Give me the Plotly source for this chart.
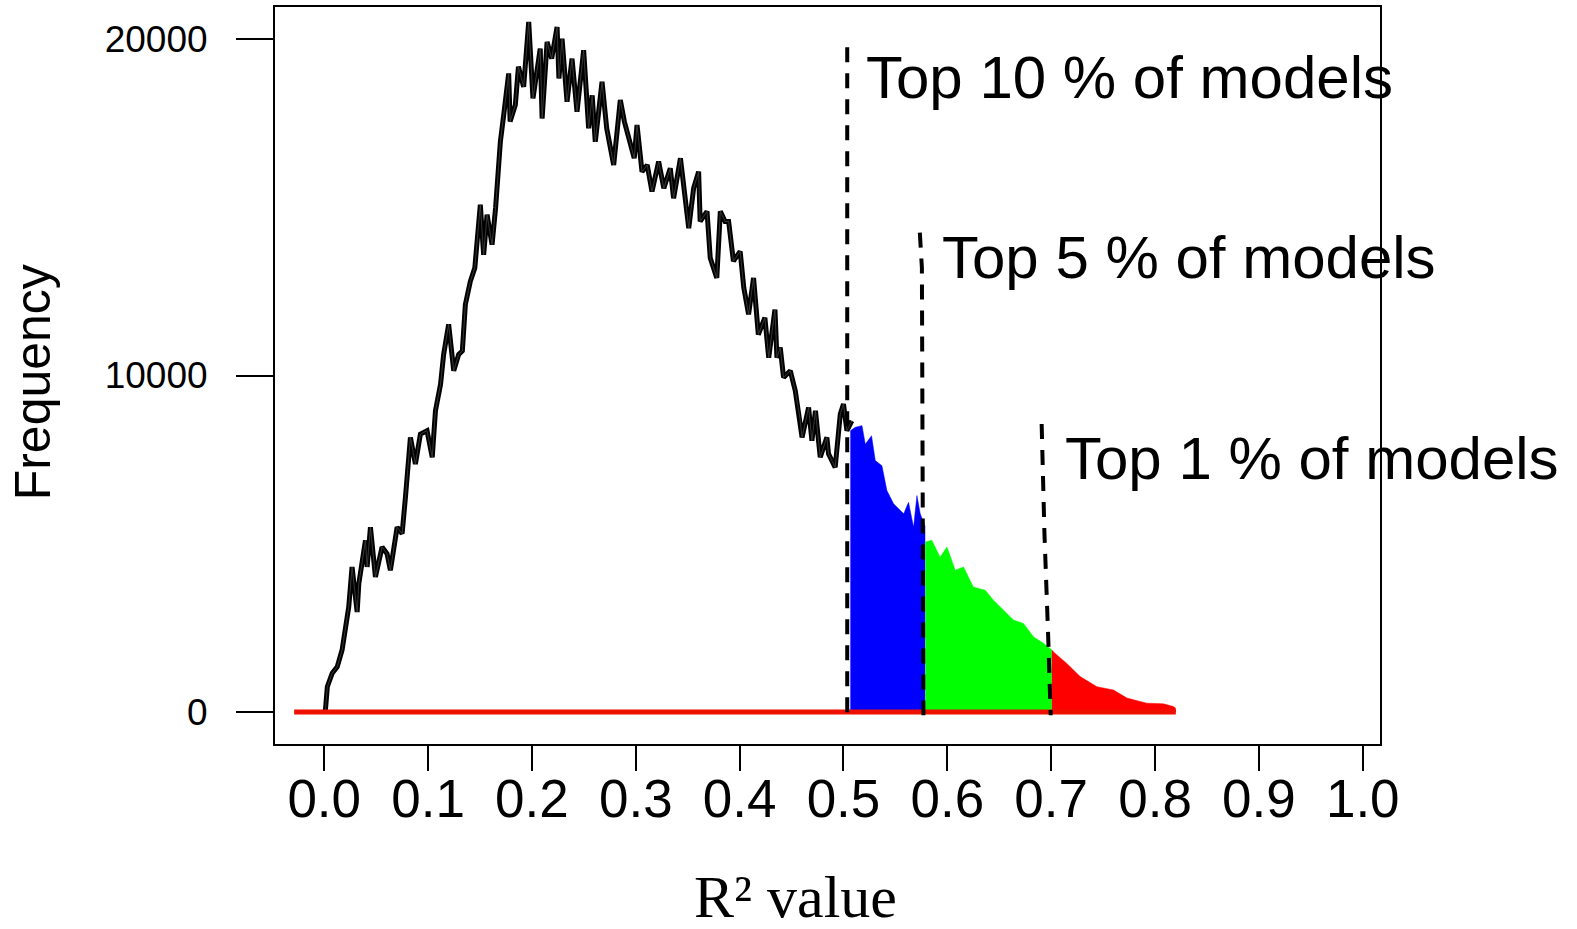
import plotly.graph_objects as go

# ---------------- data ----------------
r2_all = [0.001, 0.003, 0.0077, 0.0125, 0.0172, 0.0204, 0.0236, 0.0268, 0.0317, 0.0333,
          0.0397, 0.0413, 0.0445, 0.0493, 0.0557, 0.0605, 0.0637, 0.0702, 0.075, 0.0782,
          0.081, 0.083, 0.0878, 0.0926, 0.099, 0.104, 0.1071, 0.112, 0.115, 0.1198,
          0.1247, 0.1295, 0.1330, 0.1359, 0.1407, 0.1450, 0.1503, 0.1535, 0.1568, 0.1616,
          0.1650, 0.1696, 0.1728, 0.1776, 0.179, 0.1840, 0.187, 0.1920, 0.1969, 0.2010,
          0.208, 0.2098, 0.2146, 0.2190, 0.2242, 0.2260, 0.229, 0.2338, 0.2386, 0.2434,
          0.2498, 0.2546, 0.2580, 0.261, 0.2675, 0.2720, 0.2787, 0.2851, 0.2890, 0.2985,
          0.3012, 0.306, 0.3110, 0.3156, 0.322, 0.3270, 0.3332, 0.3364, 0.343, 0.351,
          0.3557, 0.3605, 0.362, 0.3686, 0.3717, 0.378, 0.3814, 0.386, 0.3894, 0.394,
          0.4005, 0.404, 0.4086, 0.4134, 0.418, 0.4243, 0.428, 0.434, 0.4359, 0.4391,
          0.4423, 0.4488, 0.4536, 0.458, 0.4601, 0.4664, 0.4696, 0.473, 0.4776, 0.484,
          0.4856, 0.492, 0.4969, 0.500, 0.5033, 0.508]
freq_all = [0, 750, 1150, 1340, 1840, 2530, 3120, 4310, 2970, 3810,
            5100, 4310, 5490, 4010, 4900, 4700, 4210, 5490, 5300, 6380,
            7370, 8160, 7370, 8260, 8360, 7570, 8950, 9740, 10630, 11520,
            10140, 10630, 10730, 12110, 12800, 13200, 15080, 13590, 14780, 13890,
            14980, 16950, 17740, 18980, 17550, 18040, 19180, 18580, 20510, 18240,
            19720, 17640, 19920, 19420, 20360, 18830, 20010, 18140, 19420, 17840,
            19670, 17350, 18330, 16950, 18730, 17350, 16260, 18190, 17550, 16460,
            17450, 16060, 16260, 15470, 16360, 15570, 16160, 15270, 16460, 14380,
            15570, 16060, 14580, 14880, 13490, 12900, 14880, 14580, 14580, 13400,
            13690, 12610, 11820, 12900, 11220, 11720, 10530, 11960, 10530, 10830,
            9940, 10140, 9540, 8750, 8160, 9050, 8060, 8950, 7570, 8160,
            7670, 7270, 8850, 9150, 8360, 8650]

r2_top10 = [0.5066, 0.5114, 0.5178, 0.521, 0.527, 0.5306, 0.537, 0.5418, 0.5482, 0.558,
            0.5626, 0.5675, 0.5707, 0.5739, 0.5787]
freq_top10 = [8360, 8460, 8510, 7960, 8210, 7470, 7320, 6580, 6190, 5890,
              6230, 5490, 6430, 5890, 5500]

r2_top5 = [0.5787, 0.585, 0.593, 0.5996, 0.6076, 0.6156, 0.625, 0.6364, 0.6444, 0.654,
           0.6637, 0.6733, 0.683, 0.6926, 0.7006]
freq_top5 = [5050, 5100, 4600, 4900, 4210, 4310, 3710, 3620, 3320, 3020,
             2730, 2630, 2230, 2040, 1840]

r2_top1 = [0.7006, 0.7038, 0.715, 0.7279, 0.744, 0.760, 0.773, 0.792, 0.808, 0.8177, 0.82]
freq_top1 = [1840, 1740, 1440, 1050, 750, 650, 410, 260, 240, 160, 100]

baseline_x = [-0.029, 0.82]
baseline_y = [0, 0]

cut10_x = [0.5036, 0.5036]
cut10_y = [19760, -240]
cut5_x = [0.5735, 0.5755, 0.577]
cut5_y = [14250, 13200, -100]
cut1_x = [0.6908, 0.6935, 0.697, 0.6995]
cut1_y = [8560, 5300, 2330, -100]

labels = ["Top 10 % of models", "Top 5 % of models", "Top 1 % of models"]
label_x = [0.5200, 0.5925, 0.7110]
label_y = [18850, 13520, 7530]

x_ticks = [0.0, 0.1, 0.2, 0.3, 0.4, 0.5, 0.6, 0.7, 0.8, 0.9, 1.0]
x_ticktext = ["0.0", "0.1", "0.2", "0.3", "0.4", "0.5", "0.6", "0.7", "0.8", "0.9", "1.0"]
y_ticks = [0, 10000, 20000]
y_ticktext = ["0", "10000", "20000"]

# ---------------- figure ----------------
fig = go.Figure()

fig.add_trace(go.Scatter(x=r2_all, y=freq_all, mode="lines",
                         line=dict(color="black", width=5), hoverinfo="skip"))
fig.add_trace(go.Scatter(x=r2_all, y=freq_all, mode="lines",
                         line=dict(color="#444444", width=0.8), hoverinfo="skip"))
fig.add_trace(go.Scatter(x=r2_top10, y=freq_top10, mode="lines", fill="tozeroy",
                         fillcolor="#0000FF", line=dict(color="#0000FF", width=0.5)))
fig.add_trace(go.Scatter(x=r2_top5, y=freq_top5, mode="lines", fill="tozeroy",
                         fillcolor="#00FF00", line=dict(color="#00FF00", width=0.5)))
fig.add_trace(go.Scatter(x=r2_top1, y=freq_top1, mode="lines", fill="tozeroy",
                         fillcolor="#FF0000", line=dict(color="#FF0000", width=0.5)))
fig.add_trace(go.Scatter(x=baseline_x, y=baseline_y, mode="lines",
                         line=dict(color="#EE1100", width=5)))
for cx, cy in [(cut10_x, cut10_y), (cut5_x, cut5_y), (cut1_x, cut1_y)]:
    fig.add_trace(go.Scatter(x=cx, y=cy, mode="lines",
                             line=dict(color="black", width=4, dash="15px,11px")))

for t, lx, ly in zip(labels, label_x, label_y):
    fig.add_annotation(x=lx, y=ly, xref="x", yref="y", text=t, showarrow=False,
                       xanchor="left", yanchor="middle",
                       font=dict(family="Liberation Sans, Arial, sans-serif", size=60, color="black"))

# axis titles
fig.add_annotation(x=-0.2195, y=0.4913, xref="paper", yref="paper", text="Frequency",
                   textangle=-90, showarrow=False, xanchor="center", yanchor="middle",
                   font=dict(family="Liberation Sans, Arial, sans-serif", size=50, color="black"))
fig.add_annotation(x=0.4708, y=-0.207, xref="paper", yref="paper",
                   text="R² value", showarrow=False,
                   xanchor="center", yanchor="middle",
                   font=dict(family="Liberation Serif, Times New Roman, serif", size=60, color="black"))

fig.update_layout(
    width=1577, height=929,
    margin=dict(l=275, r=197, t=5, b=185),
    paper_bgcolor="white", plot_bgcolor="white",
    showlegend=False,
    xaxis=dict(range=[-0.0474, 1.0166], tickvals=x_ticks, ticktext=x_ticktext,
               showgrid=False, zeroline=False, showline=True, mirror=True,
               linecolor="black", linewidth=2, ticks="outside", ticklen=25,
               tickwidth=1.5, tickcolor="black", ticklabelstandoff=-18,
               tickfont=dict(family="Liberation Sans Narrow, Arial Narrow, Liberation Sans, sans-serif",
                             size=53, color="black")),
    yaxis=dict(range=[-954, 20955], tickvals=y_ticks, ticktext=y_ticktext,
               showgrid=False, zeroline=False, showline=True, mirror=True,
               linecolor="black", linewidth=2, ticks="outside", ticklen=37,
               tickwidth=1.5, tickcolor="black", ticklabelstandoff=21,
               tickfont=dict(family="Liberation Sans, Arial, sans-serif", size=37, color="black")),
)

fig.write_html("out.html")
